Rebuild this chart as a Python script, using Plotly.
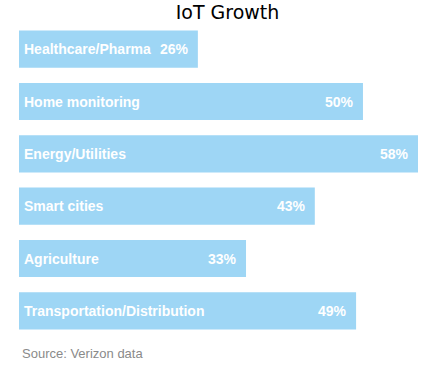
import plotly.graph_objects as go

categories = ["Healthcare/Pharma", "Home monitoring", "Energy/Utilities",
              "Smart cities", "Agriculture", "Transportation/Distribution"]
values = [26, 50, 58, 43, 33, 49]
value_labels = [f"{v}%" for v in values]
title_text = "IoT Growth"
source_text = "Source: Verizon data"

BAR_COLOR = "#9ED6F5"
LABEL_FONT = dict(family="Liberation Sans, Arial, sans-serif", size=14, color="white")

W, H = 432, 375
ML, MR, MT, MB = 19, 14, 23, 38

fig = go.Figure()
fig.add_trace(go.Bar(
    x=values, y=categories, orientation="h",
    marker=dict(color=BAR_COLOR, line=dict(width=0)),
    hoverinfo="skip",
))

annotations = []
for cat, v, lab in zip(categories, values, value_labels):
    annotations.append(dict(
        x=0, y=cat, xref="x", yref="y", text=f"<b>{cat}</b>",
        showarrow=False, xanchor="left", yanchor="middle", xshift=3,
        font=LABEL_FONT,
    ))
    annotations.append(dict(
        x=v, y=cat, xref="x", yref="y", text=f"<b>{lab}</b>",
        showarrow=False, xanchor="right", yanchor="middle", xshift=-7,
        font=LABEL_FONT,
    ))

plot_w = W - ML - MR
plot_h = H - MT - MB
annotations.append(dict(
    x=(20 - ML) / plot_w, y=(H - MB - 353) / plot_h, xref="paper", yref="paper",
    text=source_text, showarrow=False, xanchor="left", yanchor="middle",
    font=dict(family="Liberation Sans, Arial, sans-serif", size=13, color="#8a8a8a"),
))

fig.update_layout(
    width=W, height=H,
    margin=dict(l=ML, r=MR, t=MT, b=MB, pad=0),
    paper_bgcolor="white", plot_bgcolor="white",
    bargap=0.29,
    showlegend=False,
    title=dict(text=title_text, x=227.5 / W, xanchor="center",
               y=1 - 12 / H, yanchor="middle",
               font=dict(family="DejaVu Sans", size=19, color="black")),
    xaxis=dict(range=[0, 58], visible=False, fixedrange=True),
    yaxis=dict(categoryorder="array", categoryarray=categories,
               autorange="reversed", visible=False, fixedrange=True),
    annotations=annotations,
)

fig.write_html("out.html",
               config={"displayModeBar": False},
               post_script="document.body.style.margin='0';document.body.style.overflow='hidden';")
